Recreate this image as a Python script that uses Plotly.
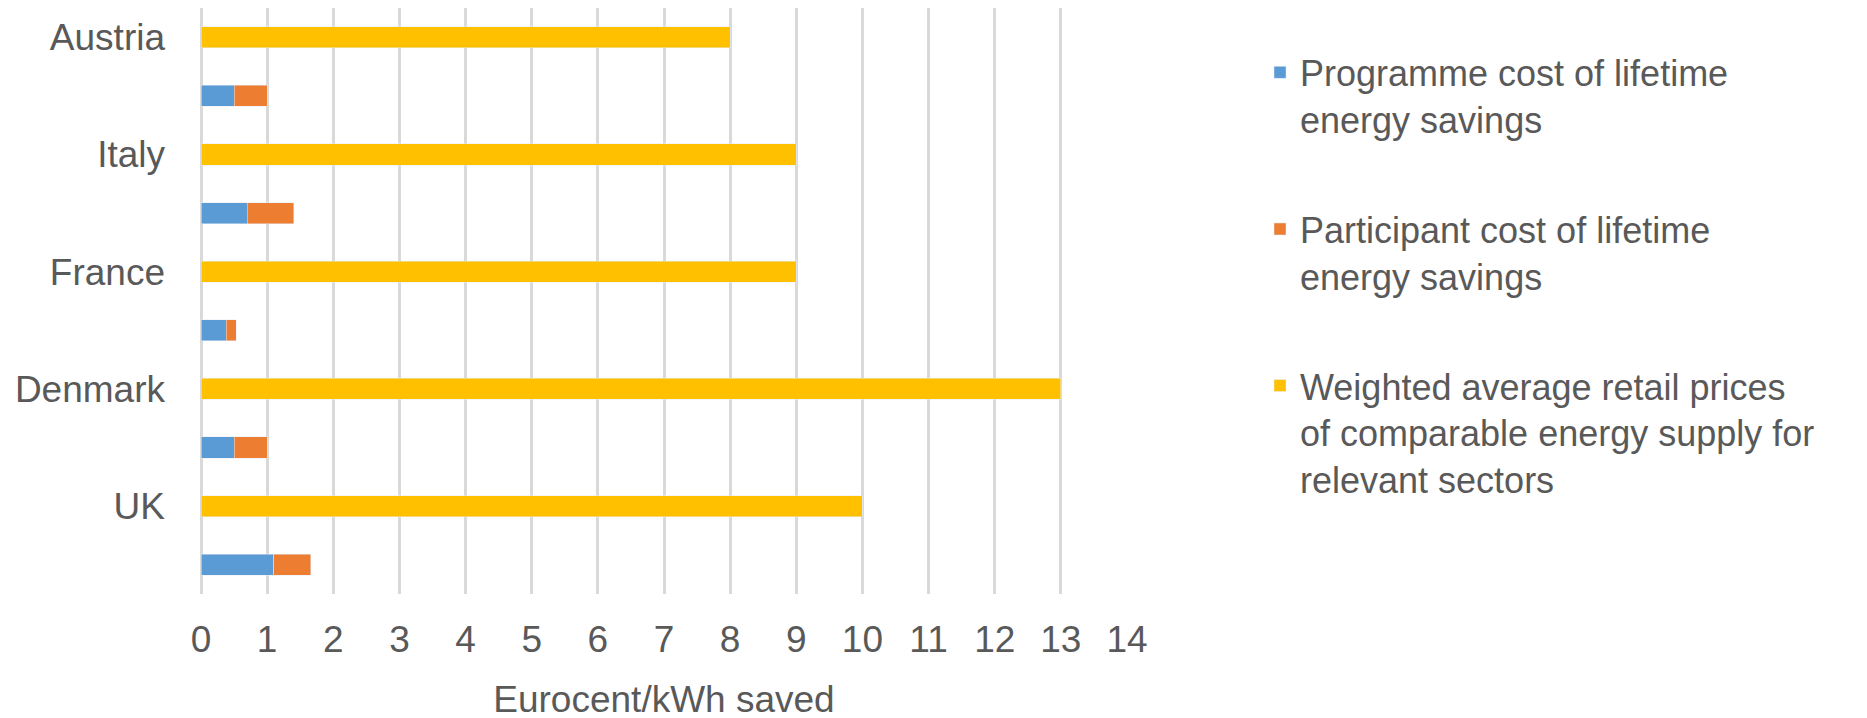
import plotly.graph_objects as go

countries = ["Austria", "Italy", "France", "Denmark", "UK"]
programme_cost = [0.5, 0.7, 0.38, 0.5, 1.1]
participant_cost = [0.5, 0.7, 0.15, 0.5, 0.56]
retail_price = [8, 9, 9, 13, 10]
x_ticks = list(range(0, 15))

legend_names = [
    "Programme cost of lifetime<br>energy savings",
    "Participant cost of lifetime<br>energy savings",
    "Weighted average retail prices<br>of comparable energy supply for<br>relevant sectors",
]

price_rows = countries
cost_rows = [c + "_cost" for c in countries]
row_order = []
for p, c in zip(price_rows, cost_rows):
    row_order += [p, c]

FONT = "Liberation Sans, Arial, sans-serif"
TXT = "#595959"

fig = go.Figure()
fig.add_trace(go.Bar(y=cost_rows, x=programme_cost, orientation="h",
                     name=legend_names[0], marker_color="#5B9BD5",
                     legendgroup="a"))
fig.add_trace(go.Bar(y=cost_rows, x=participant_cost, orientation="h",
                     name=legend_names[1], marker_color="#ED7D31",
                     legendgroup="b"))
fig.add_trace(go.Bar(y=price_rows, x=retail_price, orientation="h",
                     name=legend_names[2], marker_color="#FFC000",
                     legendgroup="c"))

fig.update_layout(
    barmode="stack",
    bargap=0.64,
    width=1867, height=718,
    margin=dict(l=193, r=748, t=0, b=132),
    plot_bgcolor="white", paper_bgcolor="white",
    font=dict(family=FONT, size=37, color=TXT),
    showlegend=True,
    legend=dict(
        xref="container", yref="container",
        x=0.6706, y=0.952, xanchor="left", yanchor="top",
        traceorder="grouped", tracegroupgap=60,
        valign="top", maxheight=700,
        font=dict(family=FONT, size=36, color=TXT),
    ),
)
fig.update_xaxes(
    range=[0, 14], tickvals=x_ticks, ticktext=[str(v) for v in x_ticks],
    showgrid=True, gridcolor="#D9D9D9", gridwidth=3,
    zeroline=True, zerolinecolor="#D9D9D9", zerolinewidth=3,
    showline=False, ticks="", ticklabelstandoff=20,
    tickfont=dict(size=37, color=TXT),
    title=dict(text="Eurocent/kWh saved", font=dict(size=37, color=TXT), standoff=27),
)
fig.update_yaxes(
    type="category", categoryorder="array", categoryarray=row_order,
    autorange="reversed",
    tickvals=price_rows, ticktext=countries,
    showgrid=False, zeroline=False, showline=False, ticks="",
    ticklabelstandoff=35,
    tickfont=dict(size=37, color=TXT),
)

fig.write_html("out.html")
